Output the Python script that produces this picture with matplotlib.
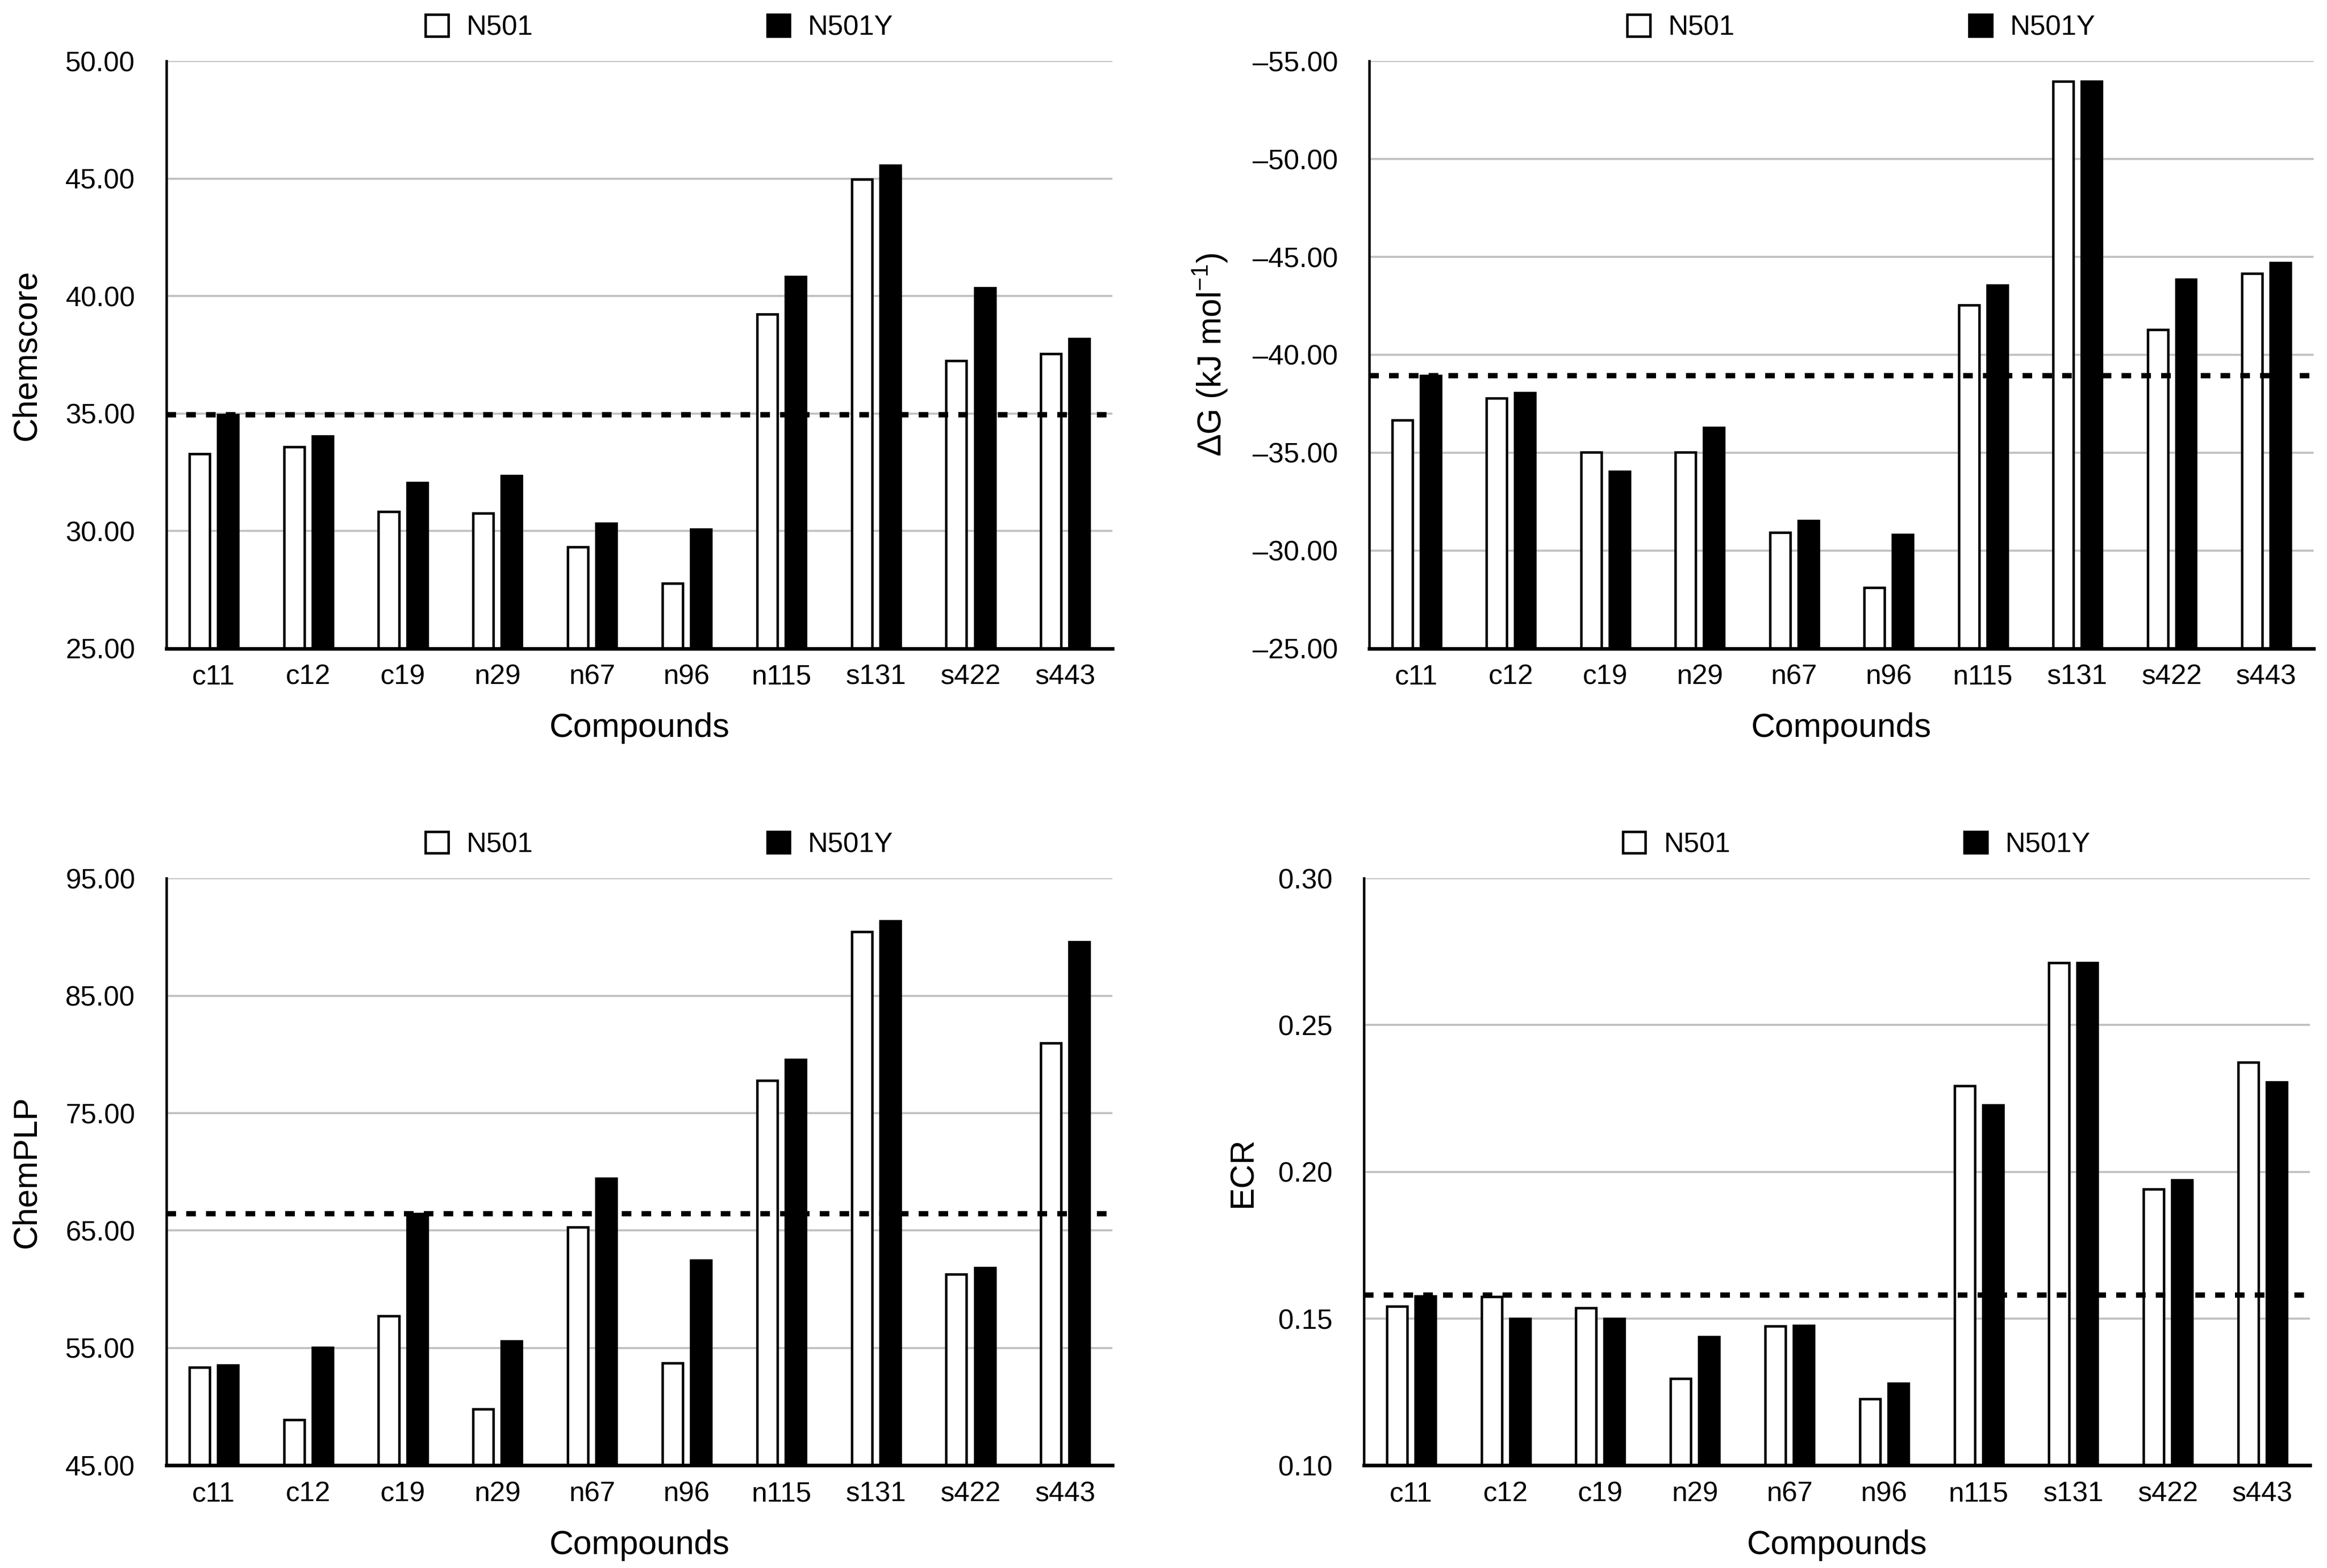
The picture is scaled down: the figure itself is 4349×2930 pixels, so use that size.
import numpy as np
import matplotlib
matplotlib.use("Agg")
import matplotlib.pyplot as plt
from matplotlib.ticker import FormatStrFormatter, FuncFormatter

plt.rcParams['font.family'] = ['Liberation Sans', 'DejaVu Sans']
plt.rcParams['mathtext.fontset'] = 'custom'
plt.rcParams['mathtext.rm'] = 'Liberation Sans'
plt.rcParams['mathtext.it'] = 'Liberation Sans:italic'
plt.rcParams['mathtext.bf'] = 'Liberation Sans:bold'

compounds = ["c11", "c12", "c19", "n29", "n67", "n96", "n115", "s131", "s422", "s443"]
series_names = ["N501", "N501Y"]

chemscore_n501 = [33.28, 33.58, 30.82, 30.76, 29.33, 27.77, 39.24, 44.96, 37.25, 37.55]
chemscore_n501y = [34.95, 34.03, 32.06, 32.34, 30.31, 30.07, 40.83, 45.57, 40.34, 38.18]
chemscore_ref = 34.95

dg_n501 = [-36.67, -37.77, -35.03, -35.03, -30.93, -28.10, -42.53, -53.97, -41.28, -44.16]
dg_n501y = [-38.94, -38.06, -34.03, -36.28, -31.52, -30.81, -43.55, -53.97, -43.84, -44.70]
dg_ref = -38.94

chemplp_n501 = [53.35, 48.91, 57.72, 49.78, 65.28, 53.73, 77.79, 90.43, 61.29, 80.99]
chemplp_n501y = [53.56, 55.02, 66.45, 55.60, 69.44, 62.46, 79.54, 91.34, 61.83, 89.56]
chemplp_ref = 66.45

ecr_n501 = [0.1542, 0.1574, 0.1537, 0.1296, 0.1475, 0.1226, 0.2293, 0.2712, 0.1941, 0.2373]
ecr_n501y = [0.1577, 0.1500, 0.1500, 0.1439, 0.1477, 0.1279, 0.2227, 0.2712, 0.1973, 0.2305]
ecr_ref = 0.158

chemscore_ticks = [25, 30, 35, 40, 45, 50]
dg_ticks = [-25, -30, -35, -40, -45, -50, -55]
chemplp_ticks = [45, 55, 65, 75, 85, 95]
ecr_ticks = [0.10, 0.15, 0.20, 0.25, 0.30]

fig = plt.figure(figsize=(4349 / 300, 2930 / 300), dpi=300)

panels = [
    dict(pos=[0.0715, 0.5865, 0.4066, 0.3745], a=chemscore_n501, b=chemscore_n501y, ref=chemscore_ref,
         ticks=chemscore_ticks, lim=(25, 50), label="Chemscore", lx=-0.131, fmt="%.2f"),
    dict(pos=[0.5884, 0.5865, 0.4058, 0.3745], a=dg_n501, b=dg_n501y, ref=dg_ref,
         ticks=dg_ticks, lim=(-25, -55), label=r"ΔG (kJ mol$^{-1}$)", lx=-0.148, fmt="dg"),
    dict(pos=[0.0715, 0.0654, 0.4066, 0.3745], a=chemplp_n501, b=chemplp_n501y, ref=chemplp_ref,
         ticks=chemplp_ticks, lim=(45, 95), label="ChemPLP", lx=-0.131, fmt="%.2f"),
    dict(pos=[0.5861, 0.0654, 0.4065, 0.3745], a=ecr_n501, b=ecr_n501y, ref=ecr_ref,
         ticks=ecr_ticks, lim=(0.10, 0.30), label="ECR", lx=-0.111, fmt="%.2f"),
]

x = np.arange(len(compounds))
w = 0.215
off = 0.15

for p in panels:
    ax = fig.add_axes(p["pos"])
    base = p["lim"][0]
    a = np.array(p["a"]); b = np.array(p["b"])
    ax.bar(x - off, a - base, bottom=base, width=w, color="white", edgecolor="black",
           linewidth=1.1, zorder=3, label=series_names[0])
    ax.bar(x + off, b - base, bottom=base, width=w, color="black", edgecolor="black",
           linewidth=1.1, zorder=3, label=series_names[1])
    ax.axhline(p["ref"], color="black", linewidth=2.4, linestyle=(0, (1.8, 1.9)), zorder=4)
    ax.set_ylim(*p["lim"])
    ax.set_xlim(-0.5, len(compounds) - 0.5)
    ax.set_yticks(p["ticks"])
    if p["fmt"] == "dg":
        ax.yaxis.set_major_formatter(FuncFormatter(lambda v, pos: "\u2013%.2f" % abs(v)))
    else:
        ax.yaxis.set_major_formatter(FormatStrFormatter(p["fmt"]))
    ax.set_xticks(x)
    ax.set_xticklabels(compounds)
    ax.grid(axis="y", color="#c0c0c0", linewidth=0.9, zorder=0)
    ax.set_axisbelow(True)
    for s in ["top", "right"]:
        ax.spines[s].set_visible(False)
    ax.spines["left"].set_linewidth(1.1)
    ax.spines["bottom"].set_linewidth(1.6)
    ax.spines["left"].set_zorder(5)
    ax.spines["bottom"].set_zorder(5)
    ax.tick_params(axis="both", length=0, labelsize=12.5)
    ax.tick_params(axis="y", pad=14)
    ax.tick_params(axis="x", pad=7)
    ax.set_ylabel(p["label"], fontsize=15)
    ax.yaxis.set_label_coords(p["lx"], 0.5)
    ax.set_xlabel("Compounds", fontsize=15)
    ax.xaxis.set_label_coords(0.5, -0.109)
    ax.legend(loc="center", bbox_to_anchor=(0.521, 1.057), ncol=2, frameon=False,
              fontsize=12.5, columnspacing=8.4, handletextpad=0.65,
              handlelength=0.82, handleheight=0.82)

fig.savefig("out.png", dpi=300, facecolor="white")
